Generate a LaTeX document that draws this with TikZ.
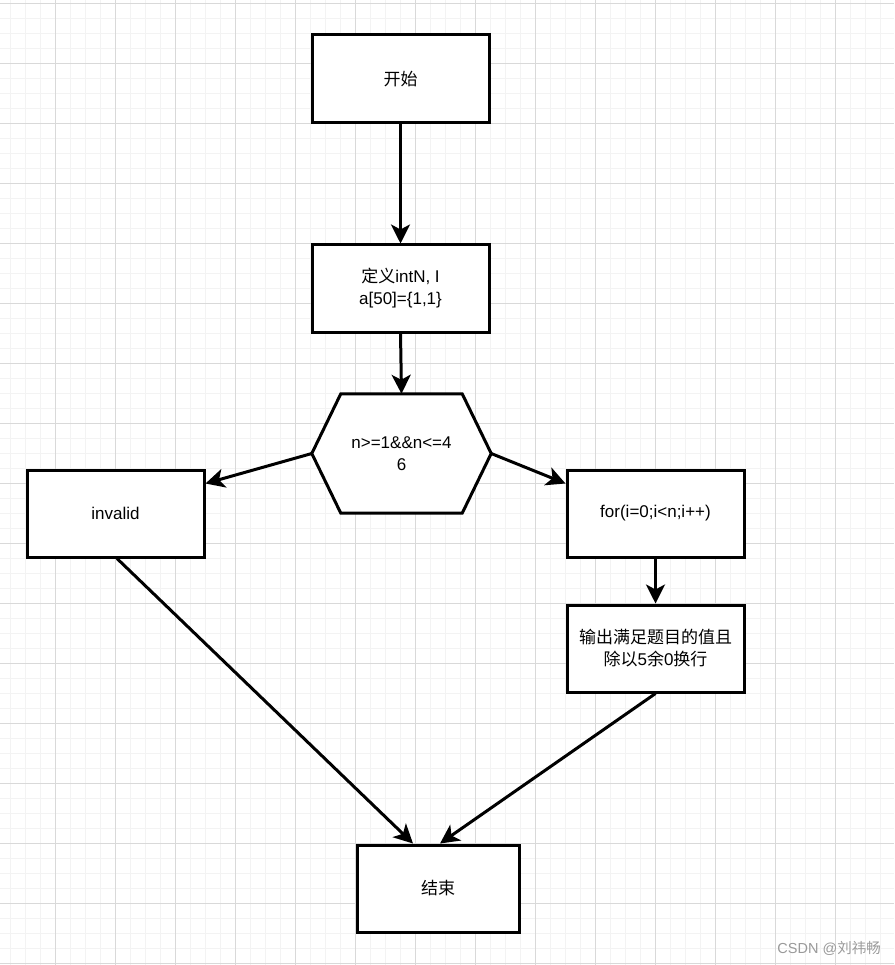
\documentclass[tikz,border=0pt]{standalone}
\usepackage{fontspec}
\setmainfont{Liberation Sans}
\newfontfamily\cjk{Noto Sans CJK SC}
\usetikzlibrary{arrows.meta,calc}
\definecolor{gridmajor}{HTML}{D9D9D9}
\definecolor{gridminor}{HTML}{F3F3F3}
\definecolor{wmark}{HTML}{9A9A9A}
\tikzset{
  box/.style={draw=black, line width=3pt, fill=white, minimum width=177pt, minimum height=87pt,
    inner sep=0pt, align=center, font=\fontsize{17}{22}\selectfont},
  hexnode/.style={minimum width=179pt, minimum height=119pt, inner sep=0pt, align=center,
    font=\fontsize{17}{22}\selectfont},
  hexline/.style={draw=black, line width=3pt, fill=white, line join=miter},
  conn/.style={line width=3pt, -{Stealth[length=19pt,width=19pt,inset=5pt]}},
}
\begin{document}
\begin{tikzpicture}[x=1pt,y=-1pt]
\useasboundingbox (0,0) rectangle (894,965);
\fill[white] (0,0) rectangle (894,965);
% grid
\foreach \x in {10,25,...,880} \draw[gridminor,line width=0.9pt] (\x,0) -- (\x,965);
\foreach \y in {3,18,...,963} \draw[gridminor,line width=0.9pt] (0,\y) -- (894,\y);
\foreach \x in {55,115,...,835} \draw[gridmajor,line width=0.9pt] (\x,0) -- (\x,965);
\foreach \y in {3,63,...,963} \draw[gridmajor,line width=0.9pt] (0,\y) -- (894,\y);

% nodes
\node[box, minimum height=88pt] (start) at (400.5,79) {\cjk 开始};
\node[box] (def) at (400.5,288.5) {{\cjk 定义}intN, I\\a[50]=\{1,1\}};
\node[hexnode] (hex) at (401.5,453.5) {};
\draw[hexline] (hex.west) -- ($(hex.north west)+(29,0)$) -- ($(hex.north east)+(-29,0)$)
  -- (hex.east) -- ($(hex.south east)+(-29,0)$) -- ($(hex.south west)+(29,0)$) -- cycle;
\node[hexnode] at (hex.center) {n>=1\&\&n<=4\\6};
\node[box] (invalid) at (115.5,513.5) {invalid};
\node[box] (for) at (655.5,513.5) {for(i=0;i<n;i++)};
\node[box] (out) at (655.5,648.5) {{\cjk 输出满足题目的值且}\\{\cjk 除以}5{\cjk 余}0{\cjk 换行}};
\node[box, minimum width=162pt] (end) at (438,888.5) {\cjk 结束};

% connectors
\draw[conn] (start.south) -- (def.north);
\draw[conn] (def.south) -- (hex.north);
\draw[conn] (hex.west) -- ([yshift=30pt]invalid.east);
\draw[conn] (hex.east) -- ([yshift=30pt]for.west);
\draw[conn] (for.south) -- (out.north);
\draw[conn] ([xshift=1.5pt]invalid.south) -- ([xshift=-25pt]end.north);
\draw[conn] (out.south) -- ([xshift=2pt]end.north);

% watermark
\node[text=wmark, font=\fontsize{14.5}{16}\selectfont, anchor=base east, inner sep=0pt] (wm) at (881,953)
  {CSDN @{\cjk 刘祎畅}};
\end{tikzpicture}
\end{document}
